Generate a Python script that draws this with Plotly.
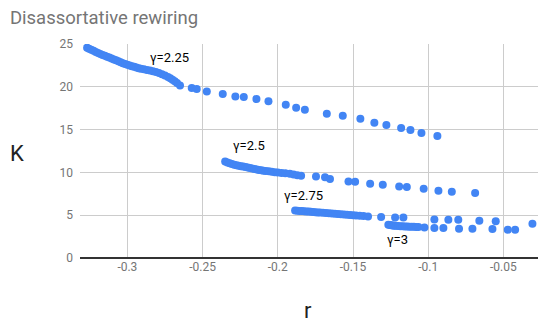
import plotly.graph_objects as go

# gamma = 2.25
r_225 = [-0.3268, -0.3255, -0.3240, -0.3225, -0.3210, -0.3195, -0.3180, -0.3165, -0.3150, -0.3135,
         -0.3120, -0.3105, -0.3090, -0.3075, -0.3060, -0.3045, -0.3030, -0.3015, -0.3000, -0.2985,
         -0.2970, -0.2955, -0.2940, -0.2925, -0.2910, -0.2890, -0.2870, -0.2850, -0.2830, -0.2810,
         -0.2790, -0.2770, -0.2750, -0.2730, -0.2715, -0.2700, -0.2685, -0.2670, -0.2650,
         -0.2572, -0.2539, -0.2472, -0.2366, -0.2282, -0.2226, -0.2142, -0.2062, -0.1947, -0.1878,
         -0.1820, -0.1674, -0.1568, -0.1451, -0.1358, -0.1278, -0.1180, -0.1118, -0.1045, -0.0939]
k_225 = [24.57, 24.45, 24.32, 24.20, 24.06, 23.95, 23.84, 23.72, 23.62, 23.52,
         23.42, 23.32, 23.20, 23.09, 22.98, 22.87, 22.76, 22.66, 22.57, 22.48,
         22.40, 22.33, 22.25, 22.18, 22.10, 22.04, 21.97, 21.90, 21.82, 21.72,
         21.60, 21.47, 21.32, 21.15, 20.99, 20.83, 20.65, 20.45, 20.16,
         19.86, 19.74, 19.46, 19.16, 18.88, 18.80, 18.57, 18.30, 17.91, 17.56,
         17.32, 16.86, 16.62, 16.27, 15.80, 15.54, 15.19, 14.95, 14.60, 14.25]

# gamma = 2.5
r_25 = [-0.2350, -0.2335, -0.2320, -0.2305, -0.2290, -0.2275, -0.2260, -0.2245, -0.2230, -0.2215,
        -0.2200, -0.2185, -0.2170, -0.2155, -0.2140, -0.2125, -0.2110, -0.2095, -0.2080, -0.2060,
        -0.2040, -0.2020, -0.2000, -0.1975, -0.1950, -0.1920, -0.1895, -0.1870, -0.1845,
        -0.1746, -0.1686, -0.1653, -0.1530, -0.1486, -0.1386, -0.1302, -0.1193, -0.1142, -0.1030,
        -0.0932, -0.0843, -0.0688]
k_25 = [11.28, 11.16, 11.06, 10.97, 10.90, 10.84, 10.78, 10.73, 10.68, 10.62,
        10.56, 10.50, 10.45, 10.40, 10.34, 10.29, 10.24, 10.20, 10.16, 10.12,
        10.08, 10.03, 9.99, 9.94, 9.89, 9.84, 9.75, 9.68, 9.61,
        9.53, 9.42, 9.23, 8.95, 8.91, 8.68, 8.56, 8.36, 8.29, 8.10,
        7.86, 7.75, 7.59]

# gamma = 2.75
r_275 = [-0.1885, -0.1870, -0.1855, -0.1840, -0.1825, -0.1810, -0.1795, -0.1780, -0.1765, -0.1750,
         -0.1735, -0.1720, -0.1700, -0.1680, -0.1660, -0.1640, -0.1620, -0.1600, -0.1580, -0.1560,
         -0.1540, -0.1520, -0.1500, -0.1480, -0.1455, -0.1430, -0.1400,
         -0.1313, -0.1220, -0.1165, -0.0959, -0.0866, -0.0800, -0.0660, -0.0551, -0.0307]
k_275 = [5.56, 5.53, 5.50, 5.48, 5.46, 5.44, 5.42, 5.40, 5.38, 5.35,
         5.33, 5.31, 5.28, 5.25, 5.22, 5.20, 5.18, 5.15, 5.12, 5.09,
         5.06, 5.03, 5.00, 4.97, 4.93, 4.90, 4.86,
         4.79, 4.74, 4.74, 4.51, 4.47, 4.47, 4.36, 4.28, 4.01]

# gamma = 3
r_3 = [-0.1265, -0.1255, -0.1245, -0.1235, -0.1225, -0.1215, -0.1200, -0.1185, -0.1170, -0.1155,
       -0.1140, -0.1125, -0.1110, -0.1095, -0.1080, -0.1065,
       -0.1025, -0.0959, -0.0899, -0.0795, -0.0706, -0.0573, -0.0471, -0.0422]
k_3 = [3.89, 3.86, 3.83, 3.80, 3.78, 3.76, 3.74, 3.72, 3.70, 3.69,
       3.67, 3.66, 3.65, 3.64, 3.63, 3.62,
       3.57, 3.50, 3.50, 3.42, 3.42, 3.39, 3.31, 3.31]

labels = ["γ=2.25", "γ=2.5", "γ=2.75", "γ=3"]
label_r = [-0.2862, -0.2310, -0.1969, -0.1289]
label_k = [23.48, 13.15, 7.28, 2.22]

x_ticks = [-0.3, -0.25, -0.2, -0.15, -0.1, -0.05]
x_tick_text = ["-0.3", "-0.25", "-0.2", "-0.15", "-0.1", "-0.05"]
y_ticks = [0, 5, 10, 15, 20, 25]

BLUE = "#4285F4"
FONT = "Roboto, Arial, sans-serif"

fig = go.Figure()
for xs, ys in [(r_225, k_225), (r_25, k_25), (r_275, k_275), (r_3, k_3)]:
    fig.add_trace(go.Scatter(x=xs, y=ys, mode="markers",
                             marker=dict(color=BLUE, size=8, line=dict(width=0)),
                             showlegend=False, hoverinfo="x+y"))

for t, xv, yv in zip(labels, label_r, label_k):
    fig.add_annotation(x=xv, y=yv, text=t, showarrow=False, xanchor="left", yanchor="middle",
                       font=dict(family=FONT, size=13, color="#000000"))

fig.add_annotation(xref="paper", yref="paper", x=-0.137, y=0.49, text="K", showarrow=False,
                   xanchor="center", yanchor="middle", font=dict(family=FONT, size=22, color="#222222"))
fig.add_annotation(xref="paper", yref="paper", x=0.498, y=-0.245, text="r", showarrow=False,
                   xanchor="center", yanchor="middle", font=dict(family=FONT, size=22, color="#222222"))

fig.update_layout(
    width=550, height=323,
    margin=dict(l=80, r=12, t=44, b=65, autoexpand=False),
    paper_bgcolor="white", plot_bgcolor="white",
    title=dict(text="Disassortative rewiring", x=0.018, xanchor="left", y=0.945, yanchor="middle",
               font=dict(family=FONT, size=18.5, color="#757575")),
    font=dict(family=FONT),
    xaxis=dict(range=[-0.3315, -0.027], tickvals=x_ticks, ticktext=x_tick_text,
               showgrid=True, gridcolor="#cccccc", gridwidth=1, zeroline=False,
               showline=False, ticks="", tickfont=dict(family=FONT, size=12, color="#757575")),
    yaxis=dict(range=[0, 25], tickvals=y_ticks, showgrid=True, gridcolor="#cccccc", gridwidth=1,
               zeroline=True, zerolinecolor="#333333", zerolinewidth=1.5,
               showline=False, ticks="", ticklabelstandoff=6,
               tickfont=dict(family=FONT, size=12, color="#757575")),
)

fig.write_html("out.html", config={"displayModeBar": False},
               post_script="document.body.style.margin='0';")
